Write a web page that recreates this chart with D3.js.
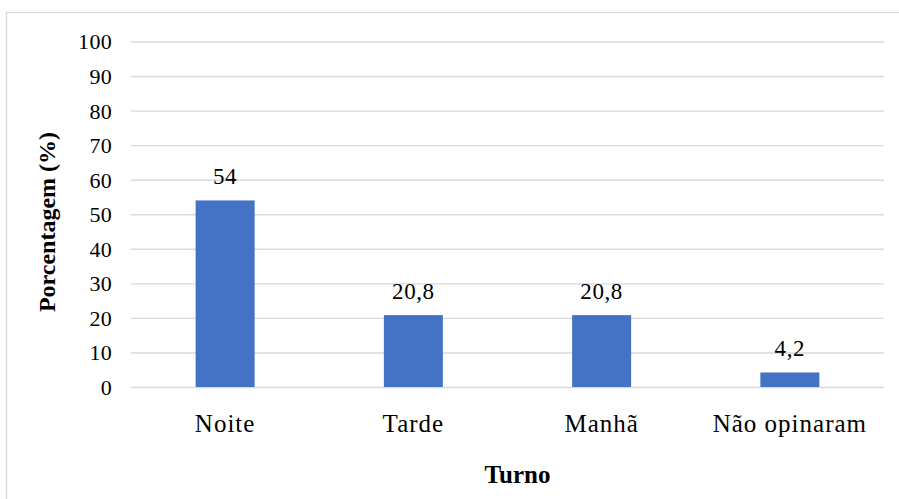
<!DOCTYPE html>
<html>
<head>
<meta charset="utf-8">
<script src="https://cdn.jsdelivr.net/npm/d3@7"></script>
<style>
  html, body { margin: 0; padding: 0; background: #ffffff; }
  svg { display: block; }
</style>
</head>
<body>
<svg id="chart" width="899" height="499"></svg>
<script>
// Turno preferido (% dos respondentes)
const categories = ["Noite", "Tarde", "Manhã", "Não opinaram"];
const values = [54, 20.8, 20.8, 4.2];
const valueLabels = ["54", "20,8", "20,8", "4,2"];
const yTicks = [0, 10, 20, 30, 40, 50, 60, 70, 80, 90, 100];
const xTitle = "Turno";
const yTitle = "Porcentagem (%)";

const serif = '"Liberation Serif", "Times New Roman", serif';
const svg = d3.select("#chart");
const W = 899, H = 499;
const plot = { left: 131, right: 884, top: 41.5, bottom: 387 };

// chart area frame
svg.append("rect")
  .attr("x", 6.5).attr("y", 12.5)
  .attr("width", W + 20).attr("height", H + 20)
  .attr("fill", "#ffffff")
  .attr("stroke", "#d9d9d9").attr("stroke-width", 1.3);

const x = d3.scaleBand()
  .domain(categories)
  .range([plot.left, plot.right])
  .paddingInner(0.6866)
  .paddingOuter(0.6866 / 2);

const y = d3.scaleLinear()
  .domain([0, 100])
  .range([plot.bottom, plot.top]);

// horizontal gridlines + tick labels
const yAxis = d3.axisLeft(y)
  .tickValues(yTicks)
  .tickSize(-(plot.right - plot.left))
  .tickPadding(19)
  .tickFormat(d3.format("d"));

const gy = svg.append("g")
  .attr("transform", `translate(${plot.left},0)`)
  .call(yAxis)
  .attr("font-family", null);
gy.select(".domain").remove();
gy.selectAll(".tick line")
  .attr("stroke", "#d9d9d9")
  .attr("stroke-width", 1.4);
gy.selectAll(".tick text")
  .style("font-family", serif)
  .style("font-size", "22px")
  .style("letter-spacing", "0.3px")
  .attr("fill", "#000")
  .attr("dy", "0.34em");

// bars
svg.append("g").selectAll("rect")
  .data(categories)
  .join("rect")
  .attr("x", d => x(d))
  .attr("y", (d, i) => y(values[i]))
  .attr("width", x.bandwidth())
  .attr("height", (d, i) => y(0) - y(values[i]))
  .attr("fill", "#4472c4");

// value labels
svg.append("g").selectAll("text")
  .data(categories)
  .join("text")
  .attr("x", d => x(d) + x.bandwidth() / 2)
  .attr("y", (d, i) => y(values[i]) - 16)
  .attr("text-anchor", "middle")
  .attr("fill", "#000")
  .style("font-family", serif)
  .style("font-size", "23px")
  .style("letter-spacing", "0.6px")
  .text((d, i) => valueLabels[i]);

// category labels
const xAxis = d3.axisBottom(x).tickSize(0).tickPadding(0);
const gx = svg.append("g")
  .attr("transform", `translate(0,${plot.bottom})`)
  .call(xAxis)
  .attr("font-family", null);
gx.select(".domain").remove();
gx.selectAll(".tick text")
  .style("font-family", serif)
  .style("font-size", "25px")
  .style("letter-spacing", "1px")
  .attr("fill", "#000")
  .attr("dy", 0)
  .attr("y", 45);

// axis titles
svg.append("text")
  .attr("x", (plot.left + plot.right) / 2 + 10)
  .attr("y", 483)
  .attr("text-anchor", "middle")
  .attr("fill", "#000")
  .style("font-family", serif)
  .style("font-size", "25px")
  .style("font-weight", "bold")
  .text(xTitle);

svg.append("text")
  .attr("transform", "translate(55,222) rotate(-90)")
  .attr("text-anchor", "middle")
  .attr("fill", "#000")
  .style("font-family", serif)
  .style("font-size", "24px")
  .style("font-weight", "bold")
  .text(yTitle);
</script>
</body>
</html>
